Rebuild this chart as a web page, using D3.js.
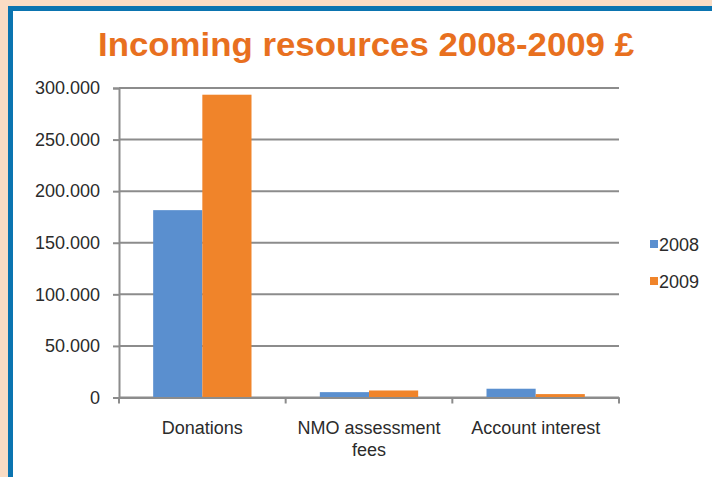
<!DOCTYPE html>
<html>
<head>
<meta charset="utf-8">
<script src="https://cdn.jsdelivr.net/npm/d3@7"></script>
<style>
  html, body { margin: 0; padding: 0; background: #fadcc4; }
  svg { display: block; }
  text { font-family: "Liberation Sans", Arial, Helvetica, sans-serif; }
</style>
</head>
<body>
<svg id="chart" width="712" height="477"></svg>
<script>
// Income categories and yearly amounts (£)
const categories = ["Donations", "NMO assessment fees", "Account interest"];
const categoryLines = [["Donations"], ["NMO assessment", "fees"], ["Account interest"]];
const years = ["2008", "2009"];
const values2008 = [181600, 5200, 8500];
const values2009 = [293500, 6800, 3300];
const yTicks = [0, 50000, 100000, 150000, 200000, 250000, 300000];
const titleText = "Incoming resources 2008-2009 £";

const colors = { "2008": "#5a8fcf", "2009": "#f0842a" };
const seriesValues = { "2008": values2008, "2009": values2009 };
const labelColor = "#2b2b2b";

const svg = d3.select("#chart");

// Framed white panel with blue border
svg.append("rect").attr("x", 0).attr("y", 0).attr("width", 712).attr("height", 477).attr("fill", "#fadcc4");
svg.append("rect").attr("x", 8).attr("y", 6).attr("width", 720).attr("height", 490).attr("fill", "#0b74b0");
svg.append("rect").attr("x", 13).attr("y", 11).attr("width", 720).attr("height", 490).attr("fill", "#ffffff");

// Title
svg.append("text")
  .attr("x", 366).attr("y", 56)
  .attr("text-anchor", "middle")
  .attr("font-size", 33).attr("font-weight", "bold")
  .attr("fill", "#e8701f")
  .attr("textLength", 536).attr("lengthAdjust", "spacingAndGlyphs")
  .text(titleText);

const plot = { left: 119, right: 619, top: 88, bottom: 397.5 };

const x0 = d3.scaleBand().domain(categories).range([plot.left, plot.right]).padding(0);
const x1 = d3.scaleBand().domain(years)
  .range([x0.bandwidth() * 0.205, x0.bandwidth() * 0.795]).padding(0);
const y = d3.scaleLinear().domain([0, 300000]).range([plot.bottom, plot.top]);

const fmt = v => d3.format(",")(v).replace(/,/g, ".");

// Horizontal gridlines with outer ticks and labels
const yAxis = svg.append("g")
  .attr("transform", `translate(${plot.left},0)`)
  .call(d3.axisLeft(y).tickValues(yTicks).tickFormat(fmt).tickSize(6).tickPadding(13));
yAxis.select(".domain").attr("stroke", "#8c8c8c").attr("stroke-width", 2);
yAxis.selectAll(".tick line").attr("stroke", "#8c8c8c").attr("stroke-width", 2);
yAxis.selectAll(".tick text").attr("font-size", 18).attr("fill", labelColor)
  .attr("font-family", "'Liberation Sans', Arial, sans-serif");

svg.append("g").selectAll("line").data(yTicks).join("line")
  .attr("x1", plot.left).attr("x2", plot.right)
  .attr("y1", d => y(d)).attr("y2", d => y(d))
  .attr("stroke", "#8c8c8c").attr("stroke-width", 2);

// Bars
const groups = svg.append("g").selectAll("g").data(categories).join("g")
  .attr("transform", d => `translate(${x0(d)},0)`);
groups.selectAll("rect")
  .data((c, i) => years.map(yr => ({ yr, v: seriesValues[yr][i] })))
  .join("rect")
  .attr("x", d => x1(d.yr))
  .attr("width", x1.bandwidth())
  .attr("y", d => y(d.v))
  .attr("height", d => y(0) - y(d.v))
  .attr("fill", d => colors[d.yr]);

// Category axis
const xAxis = svg.append("g")
  .attr("transform", `translate(0,${plot.bottom})`)
  .call(d3.axisBottom(x0).tickSize(0).tickFormat(""));
xAxis.select(".domain").attr("stroke", "#8c8c8c").attr("stroke-width", 2);

const edges = [plot.left, ...categories.map(c => x0(c) + x0.bandwidth())];
svg.append("g").selectAll("line").data(edges).join("line")
  .attr("x1", d => d).attr("x2", d => d)
  .attr("y1", plot.bottom).attr("y2", plot.bottom + 6)
  .attr("stroke", "#8c8c8c").attr("stroke-width", 2);

const labels = svg.append("g").selectAll("text").data(categories).join("text")
  .attr("text-anchor", "middle")
  .attr("font-size", 18).attr("fill", labelColor)
  .attr("x", d => x0(d) + x0.bandwidth() / 2)
  .attr("y", 434);
labels.selectAll("tspan")
  .data((d, i) => categoryLines[i])
  .join("tspan")
  .attr("x", function () { return d3.select(this.parentNode).attr("x"); })
  .attr("dy", (d, i) => i === 0 ? 0 : 22)
  .text(d => d);

// Legend
const legend = svg.append("g").selectAll("g").data(years).join("g")
  .attr("transform", (d, i) => `translate(650,${244 + i * 37})`);
legend.append("rect").attr("x", 0).attr("y", -4).attr("width", 8).attr("height", 8)
  .attr("fill", d => colors[d]);
legend.append("text").attr("x", 9).attr("y", 6.5)
  .attr("font-size", 18).attr("fill", labelColor)
  .text(d => d);
</script>
</body>
</html>
